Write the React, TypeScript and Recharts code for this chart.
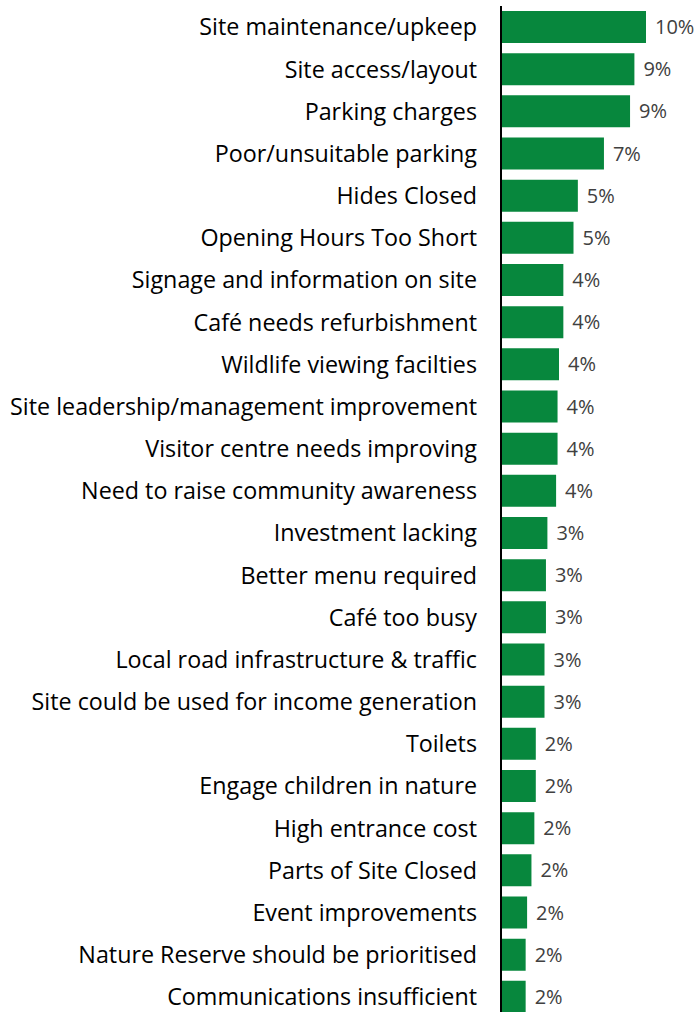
import { BarChart, Bar, XAxis, YAxis, LabelList } from 'recharts';

const categories = [
  'Site maintenance/upkeep',
  'Site access/layout',
  'Parking charges',
  'Poor/unsuitable parking',
  'Hides Closed',
  'Opening Hours Too Short',
  'Signage and information on site',
  'Café needs refurbishment',
  'Wildlife viewing facilties',
  'Site leadership/management improvement',
  'Visitor centre needs improving',
  'Need to raise community awareness',
  'Investment lacking',
  'Better menu required',
  'Café too busy',
  'Local road infrastructure & traffic',
  'Site could be used for income generation',
  'Toilets',
  'Engage children in nature',
  'High entrance cost',
  'Parts of Site Closed',
  'Event improvements',
  'Nature Reserve should be prioritised',
  'Communications insufficient',
];

const shares = [10.0, 9.2, 8.9, 7.1, 5.3, 5.0, 4.3, 4.3, 4.0, 3.9, 3.9, 3.8, 3.2, 3.1, 3.1, 3.0, 3.0, 2.4, 2.4, 2.3, 2.1, 1.8, 1.7, 1.7];

const data = categories.map((name, i) => ({ name, value: shares[i] }));

const FONT = '"Open Sans", Lato, sans-serif';

export default function App() {
  return (
    <div style={{ position: 'absolute', left: 0, top: 0, width: 697, height: 1012, overflow: 'hidden', background: '#fff', fontFamily: FONT }}>
      <BarChart width={697} height={1018} data={data} layout="vertical" margin={{ top: 6, right: 22, bottom: 0, left: 0 }}>
        <XAxis type="number" domain={[0, 12]} hide />
        <YAxis
          type="category"
          dataKey="name"
          width={501}
          interval={0}
          tickLine={false}
          tickSize={0}
          tickMargin={24}
          axisLine={{ stroke: '#000', strokeWidth: 2 }}
          tick={{ fill: '#000', fontSize: 23.3, fontFamily: FONT }}
        />
        <Bar dataKey="value" fill="#07873D" barSize={32} isAnimationActive={false}>
          <LabelList
            dataKey="value"
            position="right"
            offset={9}
            fill="#404040"
            fontSize={20}
            fontFamily={FONT}
            formatter={(v: any) => `${Math.round(Number(v))}%`}
          />
        </Bar>
      </BarChart>
    </div>
  );
}
